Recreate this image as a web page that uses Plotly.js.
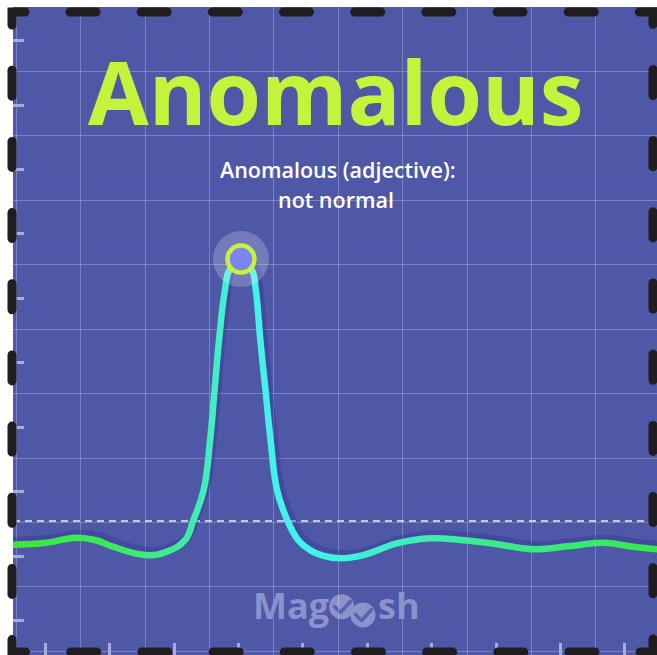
<!DOCTYPE html>
<html>
<head>
<meta charset="utf-8">
<script src="https://cdn.plot.ly/plotly-3.0.1.min.js"></script>
<style>
  html, body { margin: 0; padding: 0; background: #ffffff; }
  #chart { width: 657px; height: 655px; }
</style>
</head>
<body>
<div id="chart"></div>
<script>
// ---- data ----
const xValues = [0, 0.51, 0.98, 1.29, 1.55, 2.07, 2.38, 2.67, 2.80, 2.96, 3.06, 3.13, 3.20, 3.29, 3.36, 3.54, 3.71, 3.77, 3.84, 3.92, 4.00, 4.10, 4.26, 4.43, 4.61, 4.81, 5.08, 5.44, 5.96, 6.48, 6.99, 7.45, 8.08, 8.65, 9.16, 9.63, 10.0];
const yValues = [1.71, 1.74, 1.82, 1.78, 1.68, 1.55, 1.60, 1.78, 2.09, 2.56, 3.33, 4.11, 4.89, 5.66, 5.97, 6.14, 5.97, 5.66, 4.89, 4.11, 3.33, 2.56, 2.09, 1.78, 1.63, 1.54, 1.50, 1.55, 1.73, 1.81, 1.78, 1.73, 1.64, 1.69, 1.74, 1.68, 1.64];
const peakX = [3.54];
const peakY = [6.14];
const thresholdX = [0, 10];
const thresholdY = [2.08, 2.08];
const titleText = 'Anomalous';
const subtitleLines = ['Anomalous (adjective):', 'not normal'];
const logoLeft = 'Mag';
const logoRight = 'sh';

// ---- layout helpers (pixel -> paper) ----
const W = 657, H = 655, ML = 13, MT = 7;
const PW = W - ML, PH = H - MT;
const px = v => (v - ML) / PW;
const py = v => (H - v) / PH;
const pt = (a, b) => px(a) + ',' + py(b);

const BG = '#4f57a7';
const LOGO = '#8c92cc';
const CHECK = '#5a61b0';

// border path (decorative frame)
const bx0 = 12, bx1 = 653, by0 = 12, by1 = 652, bstart = 70;
const borderPath = 'M' + pt(bstart, by0) + ' L' + pt(bx1, by0) + ' L' + pt(bx1, by1) +
  ' L' + pt(bx0, by1) + ' L' + pt(bx0, by0) + ' Z';
const check1 = 'M' + pt(334.5, 606.5) + ' L' + pt(340.5, 612.5) + ' L' + pt(350.5, 601.5);
const check2 = 'M' + pt(355.5, 614.5) + ' L' + pt(361.5, 620.5) + ' L' + pt(371.5, 609.5);

const traces = [
  { x: thresholdX, y: thresholdY, xaxis: 'x', yaxis: 'y', mode: 'lines',
    line: { color: 'rgba(226,228,248,0.8)', width: 2, dash: '7px,5px' }, hoverinfo: 'skip' },
  { x: xValues, y: yValues, xaxis: 'x2', yaxis: 'y2', mode: 'lines', name: 'shadow',
    line: { color: 'rgba(40,46,140,0.33)', width: 8, shape: 'spline', smoothing: 1.2 }, hoverinfo: 'skip' },
  { x: xValues, y: yValues, xaxis: 'x3', yaxis: 'y3', mode: 'lines', name: 'curve',
    line: { color: '#40eeb0', width: 6.5, shape: 'spline', smoothing: 1.2 }, hoverinfo: 'skip' },
  { x: peakX, y: peakY, xaxis: 'x3', yaxis: 'y3', mode: 'markers',
    marker: { size: 56, color: 'rgba(255,255,255,0.22)', line: { width: 0 } }, hoverinfo: 'skip' },
  { x: peakX, y: peakY, xaxis: 'x3', yaxis: 'y3', mode: 'markers',
    marker: { size: 27, color: '#7b85f3', line: { width: 4.5, color: '#c6f23a' } }, hoverinfo: 'skip' }
];

const gridAxis = {
  tickmode: 'linear', dtick: 1, showgrid: true, gridcolor: 'rgba(255,255,255,0.25)', gridwidth: 1,
  zeroline: false, showticklabels: false, ticks: '', showline: false, fixedrange: true
};

const layout = {
  width: W, height: H,
  margin: { l: ML, r: 0, t: MT, b: 0, pad: 0 },
  paper_bgcolor: '#ffffff', plot_bgcolor: BG,
  showlegend: false,
  xaxis: Object.assign({}, gridAxis, { range: [0, 10], tick0: 0.05 }),
  yaxis: Object.assign({}, gridAxis, { range: [0, 10.05], tick0: 0.055 }),
  xaxis2: { overlaying: 'x', anchor: 'y2', range: [-3 / 64.4, 10 - 3 / 64.4], visible: false, fixedrange: true },
  yaxis2: { overlaying: 'y', anchor: 'x2', range: [-4 / 64.48, 10.05 - 4 / 64.48], visible: false, fixedrange: true },
  xaxis3: { overlaying: 'x', anchor: 'y3', side: 'bottom', range: [0, 10], tickmode: 'linear', tick0: 0.5, dtick: 1,
    ticks: 'inside', ticklen: 12, tickwidth: 3, tickcolor: '#a8acd8', showgrid: false, zeroline: false,
    showticklabels: false, showline: false, fixedrange: true },
  yaxis3: { overlaying: 'y', anchor: 'x3', side: 'left', range: [0, 10.05], tickmode: 'linear', tick0: 0.53, dtick: 1,
    ticks: 'inside', ticklen: 11, tickwidth: 3, tickcolor: '#a8acd8', showgrid: false, zeroline: false,
    showticklabels: false, showline: false, fixedrange: true },
  shapes: [
    { type: 'path', xref: 'paper', yref: 'paper', path: borderPath, layer: 'above',
      line: { color: '#1f1d1f', width: 9, dash: '26px,45.17px' }, fillcolor: 'rgba(0,0,0,0)' },
    { type: 'circle', xref: 'paper', yref: 'paper', layer: 'below',
      x0: px(341.7 - 12.5), x1: px(341.7 + 12.5), y0: py(606.7 + 12.5), y1: py(606.7 - 12.5),
      fillcolor: LOGO, line: { width: 0 } },
    { type: 'circle', xref: 'paper', yref: 'paper', layer: 'below',
      x0: px(363 - 12.5), x1: px(363 + 12.5), y0: py(615 + 12.5), y1: py(615 - 12.5),
      fillcolor: LOGO, line: { width: 0 } },
    { type: 'path', xref: 'paper', yref: 'paper', layer: 'below', path: check1,
      line: { color: CHECK, width: 3.5 }, fillcolor: 'rgba(0,0,0,0)' },
    { type: 'path', xref: 'paper', yref: 'paper', layer: 'below', path: check2,
      line: { color: CHECK, width: 3.5 }, fillcolor: 'rgba(0,0,0,0)' }
  ],
  annotations: [
    { text: '<b>' + titleText + '</b>', xref: 'paper', yref: 'paper', x: px(336), y: py(91),
      xanchor: 'center', yanchor: 'middle', showarrow: false,
      font: { family: 'Open Sans, sans-serif', size: 88, color: '#c5f23a' } },
    { text: subtitleLines[0], xref: 'paper', yref: 'paper', x: px(337.5), y: py(169),
      xanchor: 'center', yanchor: 'middle', showarrow: false,
      font: { family: 'Open Sans, sans-serif', size: 21.5, color: '#ffffff', weight: 600 } },
    { text: subtitleLines[1], xref: 'paper', yref: 'paper', x: px(336), y: py(199),
      xanchor: 'center', yanchor: 'middle', showarrow: false,
      font: { family: 'Open Sans, sans-serif', size: 21.5, color: '#ffffff', weight: 600 } },
    { text: '<b>' + logoLeft + '</b>', xref: 'paper', yref: 'paper', x: px(331), y: py(605),
      xanchor: 'right', yanchor: 'middle', showarrow: false,
      font: { family: 'Open Sans, sans-serif', size: 36, color: LOGO } },
    { text: '<b>' + logoRight + '</b>', xref: 'paper', yref: 'paper', x: px(376), y: py(605),
      xanchor: 'left', yanchor: 'middle', showarrow: false,
      font: { family: 'Open Sans, sans-serif', size: 36, color: LOGO } }
  ]
};

Plotly.newPlot('chart', traces, layout, { displayModeBar: false, staticPlot: true }).then(gd => {
  const ns = 'http://www.w3.org/2000/svg';
  const svg = gd.querySelector('svg.main-svg');
  let defs = svg.querySelector('defs');
  if (!defs) { defs = document.createElementNS(ns, 'defs'); svg.insertBefore(defs, svg.firstChild); }
  const grad = document.createElementNS(ns, 'linearGradient');
  grad.setAttribute('id', 'curveGrad');
  grad.setAttribute('gradientUnits', 'objectBoundingBox');
  grad.setAttribute('x1', '0'); grad.setAttribute('y1', '0');
  grad.setAttribute('x2', '1'); grad.setAttribute('y2', '0');
  const stops = [[0, '#3be83a'], [0.15, '#3de85a'], [0.27, '#40eba5'], [0.36, '#45f1e6'],
                 [0.45, '#42f2ee'], [0.55, '#3fefd0'], [0.7, '#3beb98'], [0.88, '#37ea70'], [1, '#34ea44']];
  stops.forEach(([o, c]) => {
    const s = document.createElementNS(ns, 'stop');
    s.setAttribute('offset', o); s.setAttribute('stop-color', c);
    grad.appendChild(s);
  });
  defs.appendChild(grad);
  gd.querySelectorAll('.scatterlayer .trace').forEach(g => {
    const d = g.__data__;
    const tr = d && d[0] && d[0].trace;
    if (tr && tr.name === 'curve') {
      g.querySelectorAll('path.js-line').forEach(p => {
        p.style.stroke = 'url(#curveGrad)';
        p.style.strokeLinecap = 'round';
      });
    }
    if (tr && tr.name === 'shadow') {
      g.querySelectorAll('path.js-line').forEach(p => { p.style.strokeLinecap = 'round'; });
    }
  });
  gd.querySelectorAll('.shapelayer path').forEach(p => {
    const w = parseFloat(p.style.strokeWidth);
    if (w === 9 || w === 3.5) {
      p.style.strokeLinecap = 'round';
      p.style.strokeLinejoin = 'round';
    }
    if (w === 9) p.style.strokeLinejoin = 'miter';
  });
});
</script>
</body>
</html>
